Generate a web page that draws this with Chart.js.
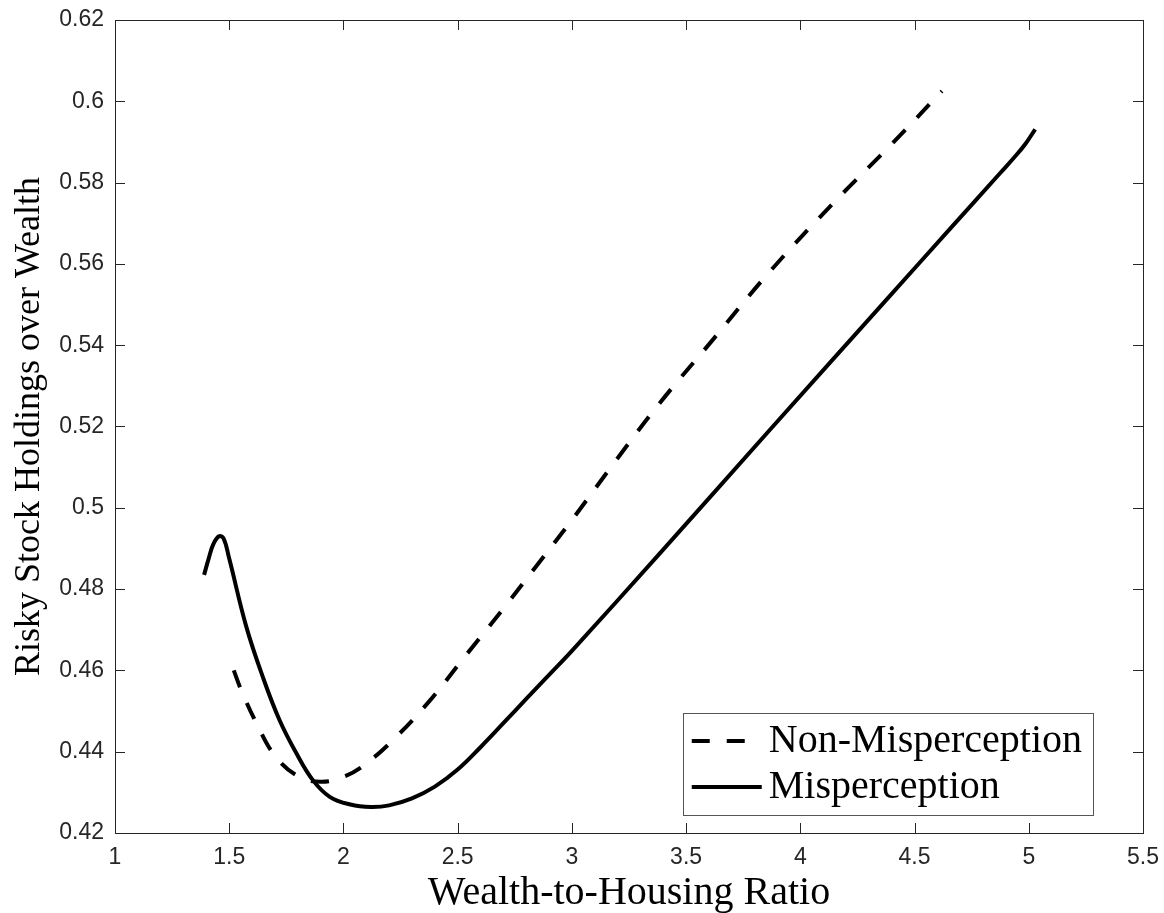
<!DOCTYPE html>
<html>
<head>
<meta charset="utf-8">
<script src="https://cdn.jsdelivr.net/npm/chart.js@4.4.1/dist/chart.umd.min.js"></script>
<style>
  html,body{margin:0;padding:0;background:#fff;}
  #wrap{width:1164px;height:913px;position:relative;}
</style>
</head>
<body>
<div id="wrap"><canvas id="c"></canvas></div>
<script>
// tick values
const xTicks = [1, 1.5, 2, 2.5, 3, 3.5, 4, 4.5, 5, 5.5];
const yTicks = [0.42, 0.44, 0.46, 0.48, 0.5, 0.52, 0.54, 0.56, 0.58, 0.6, 0.62];

// Non-Misperception (dashed)
const nmX = [1.52, 1.55, 1.62, 1.70, 1.80, 1.90, 2.00, 2.10, 2.23, 2.38, 2.52, 2.70, 2.86, 3.00, 3.20, 3.385, 3.60, 3.874, 4.152, 4.40, 4.62];
const nmY = [0.4600, 0.4555, 0.4469, 0.4390, 0.4340, 0.4326, 0.4338, 0.4371, 0.4436, 0.4527, 0.4626, 0.4752, 0.4868, 0.4970, 0.5122, 0.5258, 0.5402, 0.5586, 0.5754, 0.5895, 0.6025];

// Misperception (solid)
const mX = [1.39, 1.41, 1.43, 1.455, 1.475, 1.50, 1.575, 1.647, 1.72, 1.794, 1.866, 1.94, 2.03, 2.12, 2.20, 2.30, 2.40, 2.50, 2.60, 2.70, 2.80, 2.90, 3.00, 3.385, 3.867, 4.393, 4.655, 4.874, 4.935, 4.985, 5.028];
const mY = [0.4835, 0.4875, 0.4910, 0.4930, 0.4925, 0.4875, 0.4707, 0.4584, 0.4478, 0.4396, 0.4330, 0.4289, 0.4270, 0.4264, 0.4268, 0.4285, 0.4314, 0.4356, 0.4411, 0.4470, 0.4530, 0.4589, 0.4648, 0.4888, 0.5192, 0.5522, 0.5686, 0.5823, 0.5861, 0.5895, 0.5931];

const seriesLabels = ["Non-Misperception", "Misperception"];

const AX = "#262626";
const SERIF = "'Liberation Serif', 'Times New Roman', serif";
const SANS = "'Liberation Sans', Arial, Helvetica, sans-serif";

function pts(xs, ys){ return xs.map((x,i)=>({x, y: ys[i]})); }
function trim(v, d){ return String(+Number(v).toFixed(d)); }

// box + inward ticks on all four sides, like matlab "box on"
const framePlugin = {
  id: "frame",
  afterDatasetsDraw(chart){
    const {ctx, chartArea: a, scales} = chart;
    const tl = 10;
    ctx.save();
    ctx.strokeStyle = AX; ctx.lineWidth = 1;
    ctx.beginPath();
    scales.x.ticks.forEach(t=>{
      const px = Math.round(scales.x.getPixelForValue(t.value)) + 0.5;
      ctx.moveTo(px, a.bottom); ctx.lineTo(px, a.bottom - tl);
      ctx.moveTo(px, a.top); ctx.lineTo(px, a.top + tl);
    });
    scales.y.ticks.forEach(t=>{
      const py = Math.round(scales.y.getPixelForValue(t.value)) + 0.5;
      ctx.moveTo(a.left, py); ctx.lineTo(a.left + tl, py);
      ctx.moveTo(a.right, py); ctx.lineTo(a.right - tl, py);
    });
    ctx.stroke();
    ctx.strokeRect(Math.round(a.left)+0.5, Math.round(a.top)+0.5, Math.round(a.right-a.left), Math.round(a.bottom-a.top));
    ctx.restore();
  }
};

// legend box in lower right of the plot area
const legendPlugin = {
  id: "boxLegend",
  afterDraw(chart){
    const {ctx, chartArea: a} = chart;
    const ds = chart.data.datasets;
    ctx.save();
    ctx.font = "40px " + SERIF;
    const tw = Math.max(...ds.map(d=>ctx.measureText(d.label).width));
    const padL = 9, lineLen = 70, gap = 7, padR = 11, rowH = 46, h = 102;
    const w = padL + lineLen + gap + tw + padR;
    const right = a.right - 50, bottom = a.bottom - 18;
    const left = right - w, top = bottom - h;
    ctx.fillStyle = "#fff";
    ctx.fillRect(left, top, w, h);
    ctx.strokeStyle = "#555"; ctx.lineWidth = 1;
    ctx.strokeRect(Math.round(left)+0.5, Math.round(top)+0.5, Math.round(w), h);
    ds.forEach((d, i)=>{
      const ly = top + 28 + i*rowH;
      ctx.beginPath();
      ctx.strokeStyle = d.borderColor; ctx.lineWidth = d.borderWidth;
      ctx.setLineDash(d.borderDash || []);
      ctx.moveTo(left + padL, ly); ctx.lineTo(left + padL + (d.borderDash ? 58 : lineLen), ly);
      ctx.stroke();
      ctx.setLineDash([]);
      ctx.fillStyle = "#000";
      ctx.textBaseline = "alphabetic";
      ctx.fillText(d.label, left + padL + lineLen + gap, ly + 11);
    });
    ctx.restore();
  }
};

new Chart(document.getElementById("c"), {
  type: "scatter",
  data: {
    datasets: [
      {label: seriesLabels[0], data: pts(nmX, nmY), showLine: true, borderColor: "#000", borderWidth: 4,
       borderDash: [18, 17], pointRadius: 0, tension: 0.4, fill: false},
      {label: seriesLabels[1], data: pts(mX, mY), showLine: true, borderColor: "#000", borderWidth: 4,
       pointRadius: 0, tension: 0.4, fill: false}
    ]
  },
  options: {
    responsive: true, maintainAspectRatio: false, animation: false,
    layout: {padding: {top: 20, right: 21, left: 0, bottom: 0}},
    plugins: {legend: {display: false}, tooltip: {enabled: false}},
    scales: {
      x: {
        type: "linear", min: 1, max: 5.5,
        afterBuildTicks: s=>{ s.ticks = xTicks.map(v=>({value: v})); },
        afterFit: s=>{ s.height = 80; s.paddingLeft = 0; s.paddingRight = 0; },
        grid: {display: false, drawTicks: false}, border: {display: false},
        ticks: {color: AX, font: {family: SANS, size: 23}, padding: 11, maxRotation: 0,
                callback: v=>trim(v, 1)},
        title: {display: true, text: "Wealth-to-Housing Ratio", color: "#000",
                font: {family: SERIF, size: 40, lineHeight: 1}, padding: {top: 0, bottom: 0}}
      },
      y: {
        type: "linear", min: 0.42, max: 0.62,
        afterBuildTicks: s=>{ s.ticks = yTicks.map(v=>({value: v})); },
        afterFit: s=>{ s.width = 115; s.paddingTop = 0; s.paddingBottom = 0; },
        grid: {display: false, drawTicks: false}, border: {display: false},
        ticks: {color: AX, font: {family: SANS, size: 23}, padding: 11,
                callback: v=>trim(v, 2)},
        title: {display: true, text: "Risky Stock Holdings over Wealth", color: "#000",
                font: {family: SERIF, size: 36, lineHeight: 1}, padding: {top: 12, bottom: 0}}
      }
    }
  },
  plugins: [framePlugin, legendPlugin]
});
</script>
</body>
</html>
